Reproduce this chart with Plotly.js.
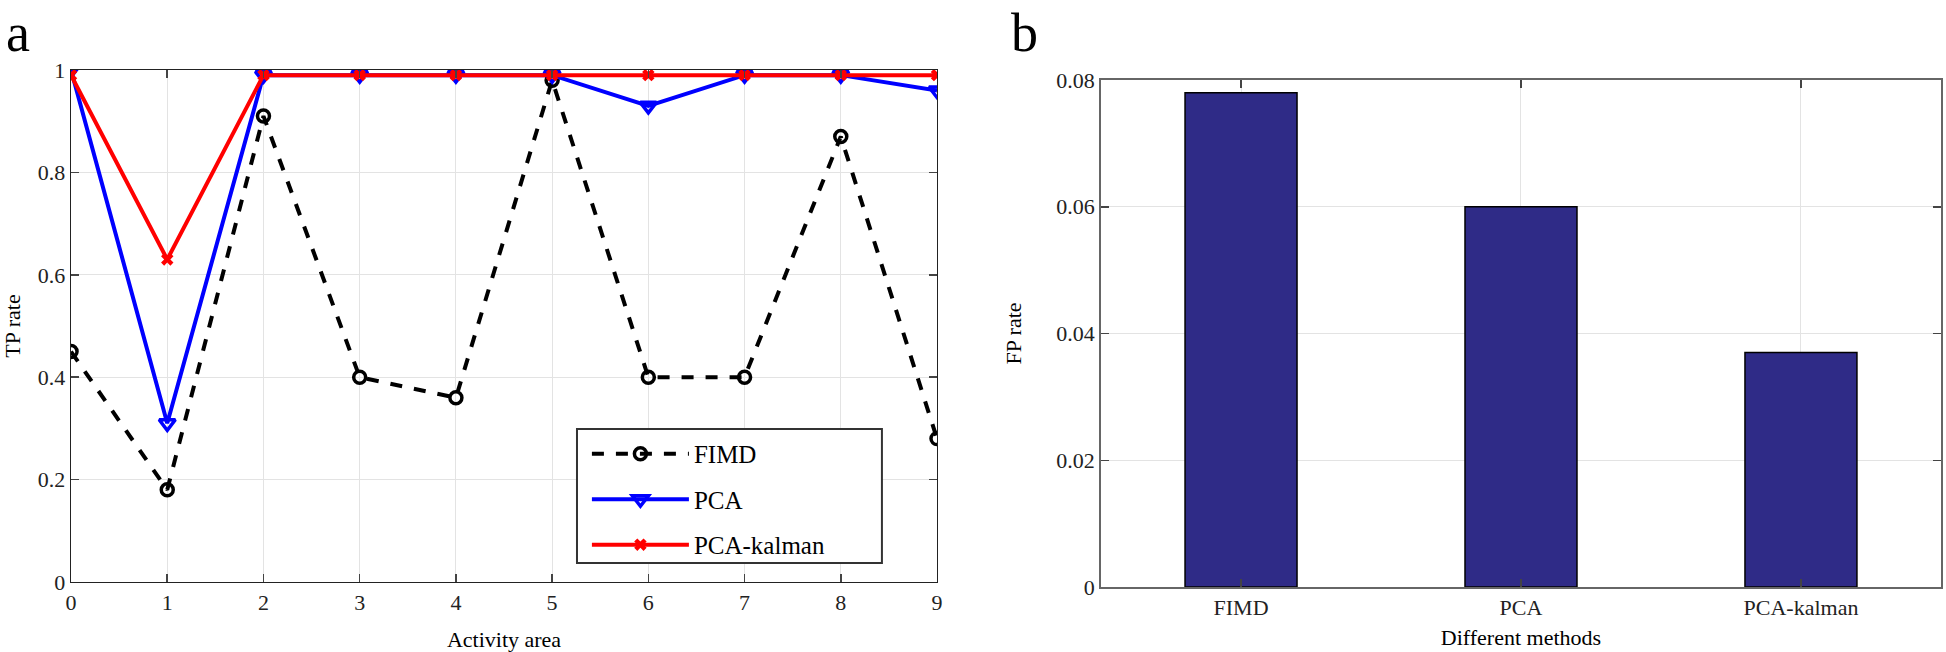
<!DOCTYPE html>
<html><head><meta charset="utf-8">
<script src="https://cdn.plot.ly/plotly-3.0.1.min.js"></script>
<style>html,body{margin:0;padding:0;background:#fff}#c{width:1946px;height:652px}</style>
</head><body><div id="c"></div>
<script>
const areas = [0,1,2,3,4,5,6,7,8,9];
const fimd = [0.45,0.18,0.91,0.40,0.36,0.98,0.40,0.40,0.87,0.28];
const pca = [1.0,0.31,0.99,0.99,0.99,0.99,0.93,0.99,0.99,0.96];
const pcaKalman = [0.99,0.63,0.99,0.99,0.99,0.99,0.99,0.99,0.99,0.99];
const methods = ['FIMD','PCA','PCA-kalman'];
const fpRate = [0.078,0.060,0.037];

const serif = '"Liberation Serif", "DejaVu Serif", "Times New Roman", Times, serif';
const traces = [
 {x:areas,y:fimd,name:'FIMD',mode:'lines+markers',xaxis:'x',yaxis:'y',legendgroup:'a',
  line:{color:'#000',width:4,dash:'dash'},marker:{symbol:'circle-open',size:12,color:'#000',line:{width:3.5}}},
 {x:areas,y:pca,name:'PCA',mode:'lines+markers',xaxis:'x',yaxis:'y',legendgroup:'b',
  line:{color:'#0000ff',width:4},marker:{symbol:'triangle-down-open',size:14,color:'#0000ff',line:{width:3.5}}},
 {x:areas,y:pcaKalman,name:'PCA-kalman',mode:'lines+markers',xaxis:'x',yaxis:'y',legendgroup:'c',
  line:{color:'#ff0000',width:4},marker:{symbol:'x',size:11,color:'#ff0000',line:{width:0}}},
 {x:methods,y:fpRate,type:'bar',xaxis:'x2',yaxis:'y2',showlegend:false,width:0.4,
  marker:{color:'#2f2b87',line:{color:'#000',width:1.5}}}
];
const ax = {showline:true,mirror:'ticks',ticks:'inside',ticklen:8,tickwidth:1.5,
  gridcolor:'#e3e3e3',gridwidth:1,zeroline:false,tickfont:{family:serif,size:22,color:'#222'}};
const layout = {
 width:1946,height:652,margin:{l:0,r:0,t:0,b:0},paper_bgcolor:'#fff',plot_bgcolor:'#fff',
 font:{family:serif,color:'#000'},
 xaxis:Object.assign({},ax,{domain:[0.0365,0.4815],range:[0,9],dtick:1,linecolor:'#222',linewidth:1.5,
   title:{text:'Activity area',font:{family:serif,size:22},standoff:18}}),
 yaxis:Object.assign({},ax,{domain:[0.1074,0.8926],range:[0,1],dtick:0.2,linecolor:'#222',linewidth:1.5,
   tickvals:[0,0.2,0.4,0.6,0.8,1],ticktext:['0','0.2','0.4','0.6','0.8','1'],
   title:{text:'TP rate',font:{family:serif,size:22},standoff:12}}),
 xaxis2:Object.assign({},ax,{domain:[0.5658,0.9974],anchor:'y2',range:[-0.5,2.5],linecolor:'#666',linewidth:2,
   title:{text:'Different methods',font:{family:serif,size:22},standoff:10}}),
 yaxis2:Object.assign({},ax,{domain:[0.0997,0.8773],anchor:'x2',range:[0,0.08],
   tickvals:[0,0.02,0.04,0.06,0.08],ticktext:['0','0.02','0.04','0.06','0.08'],linecolor:'#666',linewidth:2,
   title:{text:'FP rate',font:{family:serif,size:22},standoff:28}}),
 legend:{x:0.3016,y:0.339,xanchor:'left',yanchor:'top',bgcolor:'rgba(0,0,0,0)',borderwidth:0,
   font:{family:serif,size:25,color:'#000'},itemwidth:97,tracegroupgap:10},
 shapes:[{type:'rect',xref:'paper',yref:'paper',x0:0.2965,x1:0.4532,y0:0.1365,y1:0.342,layer:'above',
   fillcolor:'#fff',line:{color:'#333',width:2}}],
 annotations:[
  {text:'a',x:0.002,y:0.998,xref:'paper',yref:'paper',xanchor:'left',yanchor:'top',showarrow:false,font:{family:serif,size:54}},
  {text:'b',x:0.5185,y:0.998,xref:'paper',yref:'paper',xanchor:'left',yanchor:'top',showarrow:false,font:{family:serif,size:54}}
 ]
};
Plotly.newPlot('c',traces,layout,{displayModeBar:false,staticPlot:true});
</script></body></html>
